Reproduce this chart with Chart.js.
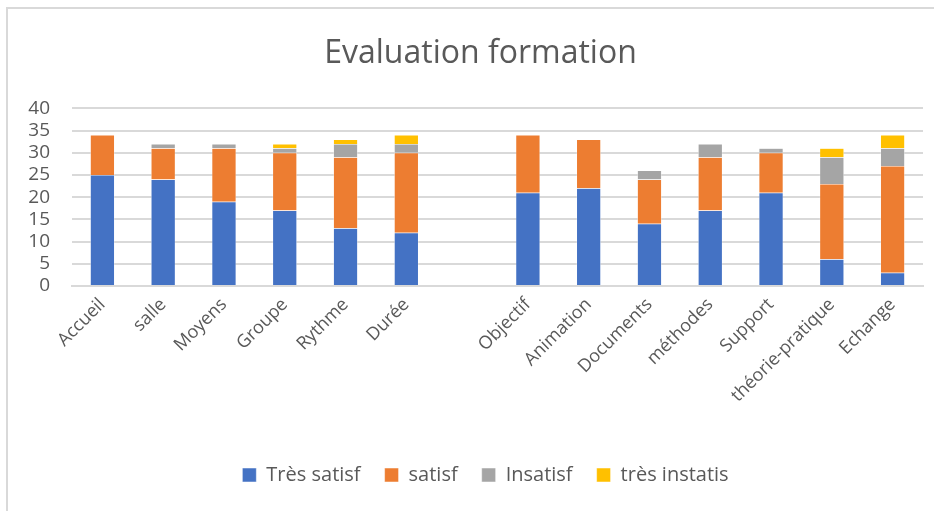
<!DOCTYPE html>
<html>
<head>
<meta charset="utf-8">
<script src="https://cdn.jsdelivr.net/npm/chart.js@4/dist/chart.umd.min.js"></script>
<style>
  html, body { margin: 0; padding: 0; background: #fff; }
  #wrap { position: relative; width: 934px; height: 511px; }
  #frame { position: absolute; left: 6px; top: 7px; right: 0; bottom: 0;
           border-left: 2px solid #d9d9d9; border-top: 2px solid #d9d9d9; pointer-events: none; }
</style>
</head>
<body>
<div id="wrap">
  <canvas id="chart" width="934" height="511"></canvas>
  <div id="frame"></div>
</div>
<script>
// categories (empty slot between the two groups, as in the source sheet)
const categories = ['Accueil', 'salle', 'Moyens', 'Groupe', 'Rythme', 'Durée', '',
  'Objectif', 'Animation', 'Documents', 'méthodes', 'Support', 'théorie-pratique', 'Echange'];

const tresSatisf   = [25, 24, 19, 17, 13, 12, null, 21, 22, 14, 17, 21, 6, 3];
const satisf       = [9, 7, 12, 13, 16, 18, null, 13, 11, 10, 12, 9, 17, 24];
const insatisf     = [0, 1, 1, 1, 3, 2, null, 0, 0, 2, 3, 1, 6, 4];
const tresInsatis  = [0, 0, 0, 1, 1, 2, null, 0, 0, 0, 0, 0, 2, 3];

const yTicks = [0, 5, 10, 15, 20, 25, 30, 35, 40];

const font = "'Open Sans', 'Noto Sans', sans-serif";
const textColor = '#595959';

function ds(label, data, color) {
    return {
        label: label,
        data: data,
        backgroundColor: color,
        borderColor: '#ffffff',
        borderWidth: 0.5,
        barPercentage: 0.4,
        categoryPercentage: 1.0
    };
}

// title and legend sit a bit right of centre in the original
const nudge = {
    id: 'nudge',
    afterLayout(chart) {
        chart.legend.left += 13;
        chart.legend.right += 13;
        chart.titleBlock.left += 8;
        chart.titleBlock.right += 8;
    }
};

const ctx = document.getElementById('chart').getContext('2d');
new Chart(ctx, {
    type: 'bar',
    data: {
        labels: categories,
        datasets: [
            ds('Très satisf', tresSatisf, '#4472c4'),
            ds('satisf', satisf, '#ed7d31'),
            ds('Insatisf', insatisf, '#a5a5a5'),
            ds('très instatis', tresInsatis, '#ffc000')
        ]
    },
    plugins: [nudge],
    options: {
        responsive: false,
        animation: false,
        layout: { padding: { left: 22, right: 11, top: 35, bottom: 16 } },
        plugins: {
            title: {
                display: true,
                text: 'Evaluation formation',
                color: textColor,
                font: { family: font, size: 32, weight: 'normal' },
                padding: { top: 0, bottom: 35 }
            },
            legend: {
                position: 'bottom',
                labels: {
                    color: textColor,
                    font: { family: font, size: 20 },
                    boxWidth: 14,
                    boxHeight: 14,
                    padding: 24
                }
            },
            tooltip: { enabled: false }
        },
        scales: {
            x: {
                stacked: true,
                grid: { display: false, drawTicks: false },
                border: { color: '#d9d9d9', width: 2 },
                ticks: {
                    color: textColor,
                    font: { family: font, size: 18 },
                    minRotation: 45,
                    maxRotation: 45,
                    autoSkip: false,
                    padding: 8
                },
                afterFit: axis => { axis.height = 155; }
            },
            y: {
                stacked: true,
                min: 0,
                max: 40,
                afterBuildTicks: axis => { axis.ticks = yTicks.map(v => ({ value: v })); },
                grid: { color: '#d9d9d9', lineWidth: 2, drawTicks: false },
                border: { display: false },
                ticks: {
                    color: textColor,
                    font: { family: font, size: 19 },
                    padding: 22,
                    autoSkip: false
                },
                afterFit: axis => { axis.width = 50; }
            }
        }
    }
});
</script>
</body>
</html>
